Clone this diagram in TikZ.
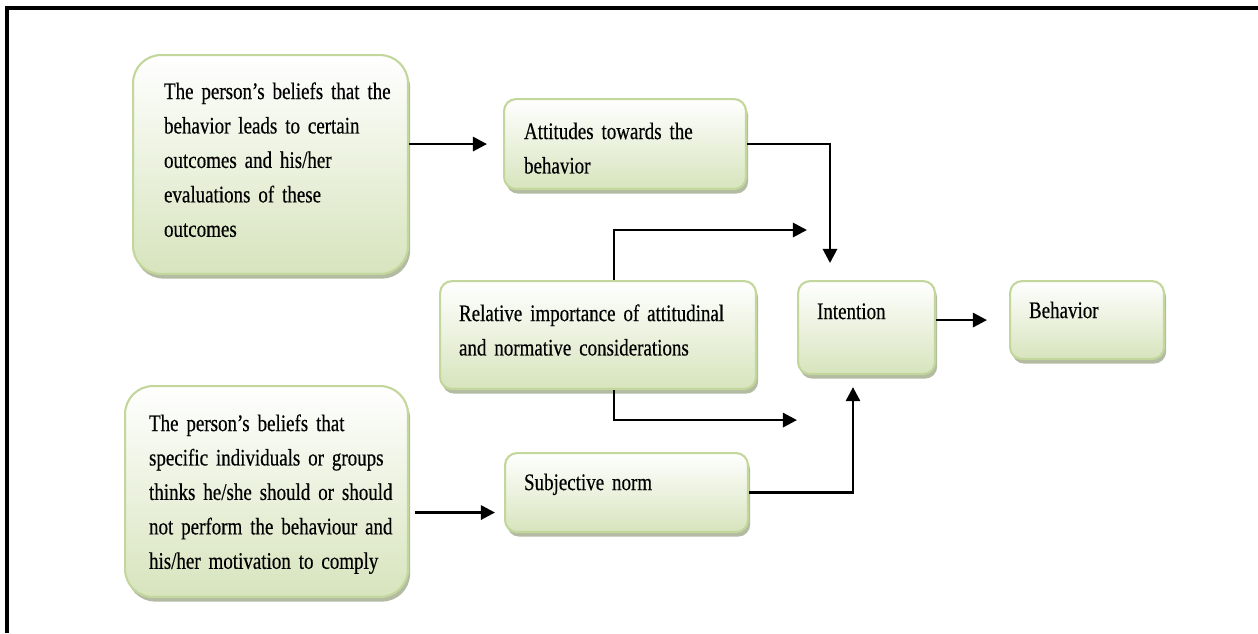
\documentclass[tikz,border=0pt]{standalone}
\usepackage{fontspec}
\setmainfont{Liberation Serif}[FakeStretch=0.8, WordSpace=0.7, FakeBold=0.4]
\usetikzlibrary{arrows.meta,shadows}
\definecolor{boxgreen}{RGB}{215,228,189}
\definecolor{boxedge}{RGB}{195,214,155}
\definecolor{boxshadow}{RGB}{160,170,140}

\begin{document}
\begin{tikzpicture}[x=0.02cm, y=-0.02cm, >=latex, thick,
    box/.style={draw=boxedge, line width=1.2pt, top color=white, bottom color=boxgreen,
        rounded corners=0.24cm, anchor=north west, inner xsep=0pt, inner ysep=0pt,
        align=left, font=\fontsize{13.5}{19.6}\selectfont,
        drop shadow={shadow xshift=1.2pt, shadow yshift=-2.6pt, fill=boxshadow, opacity=0.8}},
    pad/.style={execute at begin node={\leftskip=#1}},
    arr/.style={-{Triangle[length=8pt,width=8pt]}, line width=1.6pt}]
        \useasboundingbox (0,0) rectangle (1258,633);
        \draw[line width=2.2pt] (1258,8) -- (7,8) -- (7,633);
        % boxes
        \node[box, rounded corners=0.56cm, text width=5.5cm, text height=0.88cm, text depth=3.5cm, pad=0.62cm] (beliefA) at (132,54)
            {The person’s beliefs that the\\ behavior leads to certain\\ outcomes and his/her\\ evaluations of these\\ outcomes};
        \node[box, text width=4.84cm, text height=0.8cm, text depth=1cm, pad=0.4cm] (attit) at (503,98)
            {Attitudes towards the\\ behavior};
        \node[box, text width=6.32cm, text height=0.8cm, text depth=1.36cm, pad=0.38cm] (relimp) at (439,280)
            {Relative importance of attitudinal\\ and normative considerations};
        \node[box, text width=2.74cm, text height=0.76cm, text depth=1.1cm, pad=0.38cm] (intent) at (797,280) {Intention};
        \node[box, text width=3.08cm, text height=0.74cm, text depth=0.82cm, pad=0.38cm] (behav) at (1009,280) {Behavior};
        \node[box, rounded corners=0.56cm, text width=5.66cm, text height=0.9cm, text depth=3.32cm, pad=0.48cm] (beliefB) at (124,385)
            {The person’s beliefs that\\ specific individuals or groups\\ thinks he/she should or should\\ not perform the behaviour and\\ his/her motivation to comply};
        \node[box, text width=4.86cm, text height=0.74cm, text depth=0.84cm, pad=0.38cm] (subj) at (504,452) {Subjective norm};
        % arrows
        \coordinate (bb) at ([yshift=-0.42cm]beliefB.east);
        \draw[arr, shorten >=0.32cm] (beliefA.east |- attit) -- (attit.west);
        \draw[arr, shorten <=0.12cm, shorten >=0.18cm] (bb) -- (bb -| subj.west);
        \draw[arr, shorten >=0.34cm] (attit.east) -| ([xshift=0.66cm]intent.north west);
        \draw[arr, shorten >=0.24cm] (subj.east) -| ([xshift=1.12cm]intent.south west);
        \draw[arr] ([xshift=3.5cm]relimp.north west) |- ([xshift=0.2cm,yshift=1cm]intent.north west);
        \draw[arr] ([xshift=3.5cm]relimp.south west) |- ([yshift=-0.9cm]intent.south west);
        \draw[arr, shorten >=0.44cm] (intent.east |- behav) -- (behav.west);
    \end{tikzpicture}
\end{document}
